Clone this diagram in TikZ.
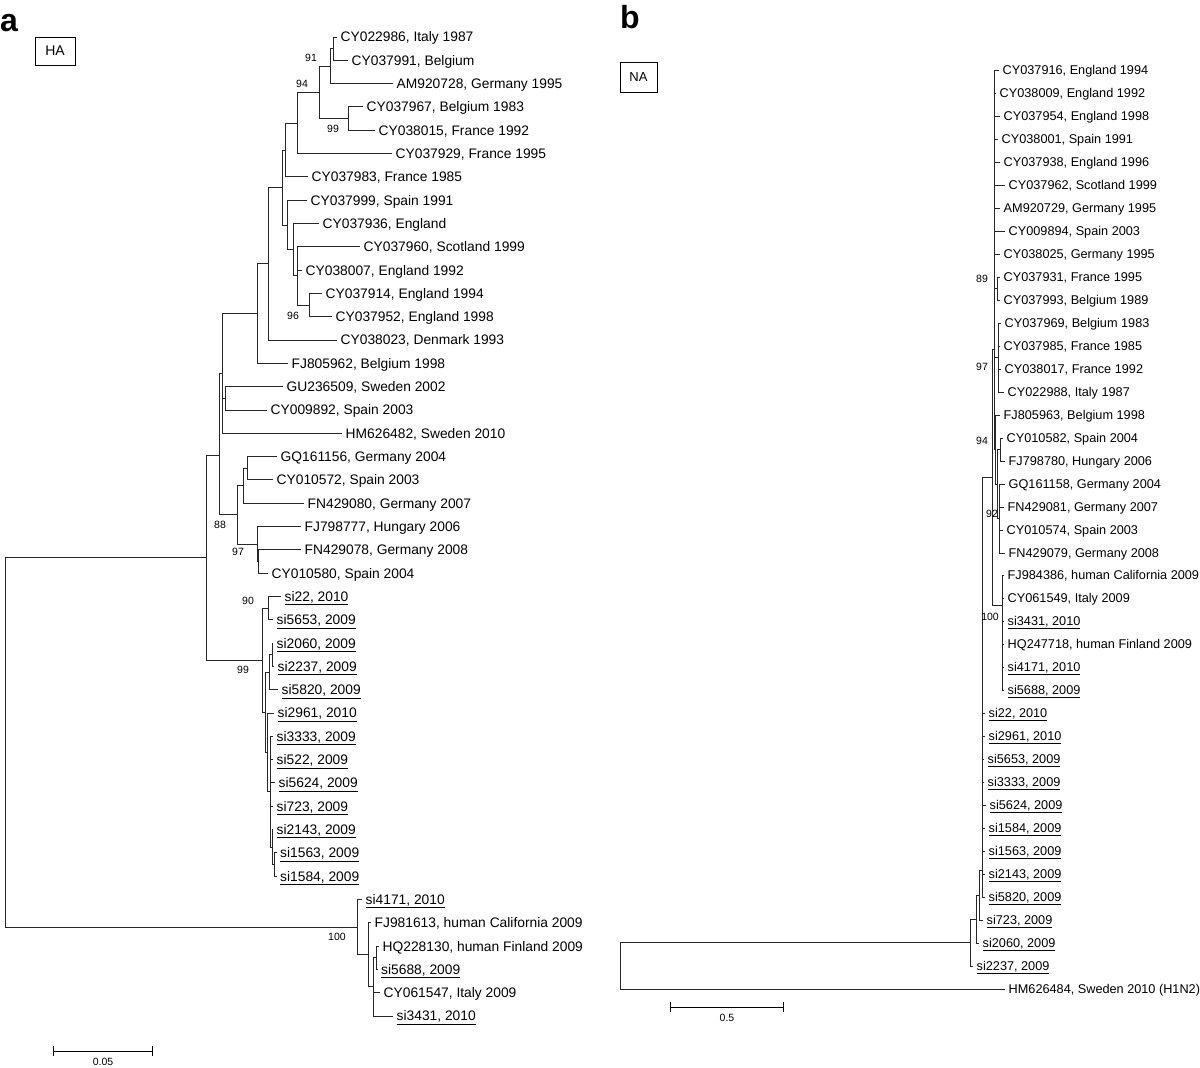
\documentclass[tikz,border=0pt]{standalone}
\usepackage{fontspec}
\setmainfont{Liberation Sans}
\usetikzlibrary{arrows.meta}
\newcommand\leaffont{\fontsize{13.8}{15}\selectfont}
\newcommand\leaffontb{\fontsize{12.7}{14}\selectfont}
\newcommand\bsfont{\fontsize{10.5}{12}\selectfont}
\newcommand\siu[1]{\underline{#1}}
\begin{document}
\begin{tikzpicture}[x=1pt,y=-1pt,
  br/.style={line width=0.9pt, draw=black!85},
  leaf/.style={anchor=west, inner xsep=3.5pt, inner ysep=0pt, text height=9.9pt, text depth=0pt, font=\leaffont},
  leafb/.style={leaf, text height=9.1pt, font=\leaffontb},
  boot/.style={font=\bsfont, inner sep=0pt},
  panel/.style={anchor=base west, inner sep=0pt, font=\fontsize{32}{34}\selectfont\bfseries},
  genebox/.style={draw, line width=0.8pt, inner sep=0pt},
  scalebar/.style={line width=0.9pt, {Bar[width=10pt]}-{Bar[width=10pt]}}
]
\useasboundingbox (0,0) rectangle (1200,1068);

% ---------------- panel a ----------------
\node[panel] (pa) at (0,31) {a};
\node[genebox, minimum width=40pt, minimum height=28pt, font=\fontsize{14}{16}\selectfont] (ha) at (55,51) {HA};

\node[leaf] (la1) at (337,37) {CY022986, Italy 1987};
\node[leaf] (la2) at (348,60.3) {CY037991, Belgium};
\node[leaf] (la3) at (393,83.6) {AM920728, Germany 1995};
\node[leaf] (la4) at (363,106.9) {CY037967, Belgium 1983};
\node[leaf] (la5) at (375,130.2) {CY038015, France 1992};
\node[leaf] (la6) at (392,153.6) {CY037929, France 1995};
\node[leaf] (la7) at (308,176.9) {CY037983, France 1985};
\node[leaf] (la8) at (307,200.2) {CY037999, Spain 1991};
\node[leaf] (la9) at (319,223.5) {CY037936, England};
\node[leaf] (la10) at (360,246.8) {CY037960, Scotland 1999};
\node[leaf] (la11) at (302,270.1) {CY038007, England 1992};
\node[leaf] (la12) at (322,293.4) {CY037914, England 1994};
\node[leaf] (la13) at (332,316.7) {CY037952, England 1998};
\node[leaf] (la14) at (337,340) {CY038023, Denmark 1993};
\node[leaf] (la15) at (288,363.3) {FJ805962, Belgium 1998};
\node[leaf] (la16) at (283,386.7) {GU236509, Sweden 2002};
\node[leaf] (la17) at (267,410) {CY009892, Spain 2003};
\node[leaf] (la18) at (342,433.3) {HM626482, Sweden 2010};
\node[leaf] (la19) at (277,456.6) {GQ161156, Germany 2004};
\node[leaf] (la20) at (273,479.9) {CY010572, Spain 2003};
\node[leaf] (la21) at (304,503.2) {FN429080, Germany 2007};
\node[leaf] (la22) at (301,526.5) {FJ798777, Hungary 2006};
\node[leaf] (la23) at (301,549.8) {FN429078, Germany 2008};
\node[leaf] (la24) at (268,573.1) {CY010580, Spain 2004};
\node[leaf] (la25) at (281,596.4) {\siu{si22, 2010}};
\node[leaf] (la26) at (273,619.8) {\siu{si5653, 2009}};
\node[leaf] (la27) at (273,643.1) {\siu{si2060, 2009}};
\node[leaf] (la28) at (274,666.4) {\siu{si2237, 2009}};
\node[leaf] (la29) at (278,689.7) {\siu{si5820, 2009}};
\node[leaf] (la30) at (274,713) {\siu{si2961, 2010}};
\node[leaf] (la31) at (273,736.3) {\siu{si3333, 2009}};
\node[leaf] (la32) at (273,759.6) {\siu{si522, 2009}};
\node[leaf] (la33) at (275,782.9) {\siu{si5624, 2009}};
\node[leaf] (la34) at (273,806.2) {\siu{si723, 2009}};
\node[leaf] (la35) at (273,829.5) {\siu{si2143, 2009}};
\node[leaf] (la36) at (276.5,852.8) {\siu{si1563, 2009}};
\node[leaf] (la37) at (276.5,876.2) {\siu{si1584, 2009}};
\node[leaf] (la38) at (362,899.5) {\siu{si4171, 2010}};
\node[leaf] (la39) at (371,922.8) {FJ981613, human California 2009};
\node[leaf] (la40) at (379,946.1) {HQ228130, human Finland 2009};
\node[leaf] (la41) at (377.5,969.4) {\siu{si5688, 2009}};
\node[leaf] (la42) at (380,992.7) {CY061547, Italy 2009};
\node[leaf] (la43) at (393,1016) {\siu{si3431, 2010}};

\coordinate (a12) at (333,48.7);
\coordinate (a123) at (330,66.1);
\coordinate (a45) at (348,118.6);
\coordinate (a1to5) at (319,92.3);
\coordinate (a1to6) at (297,123);
\coordinate (a1to7) at (285,150);
\coordinate (a1213) at (309,305);
\coordinate (aA) at (297,275.9);
\coordinate (aB) at (293,249.7);
\coordinate (aX) at (287,225);
\coordinate (aM) at (282,187.5);
\coordinate (aY) at (268,263.7);
\coordinate (aZ) at (257,313.5);
\coordinate (aP) at (225,398.3);
\coordinate (aU) at (222,373.4);
\coordinate (aGC) at (247,468.3);
\coordinate (aG) at (243,485.7);
\coordinate (aFC) at (258,561.4);
\coordinate (a97) at (257,544);
\coordinate (a88) at (237,514.8);
\coordinate (aS) at (219,455);
\coordinate (a90) at (268,608.1);
\coordinate (aK3) at (272,654.7);
\coordinate (aK2) at (269,672.2);
\coordinate (aK7) at (274.5,864.5);
\coordinate (aK6) at (272,847);
\coordinate (aK5) at (270,791.6);
\coordinate (aK4) at (267,752.3);
\coordinate (aK1) at (265,712.2);
\coordinate (a99) at (262,660.2);
\coordinate (aT) at (206,557.6);
\coordinate (aQ3) at (376,957.7);
\coordinate (aQ2) at (373,986.9);
\coordinate (aQ1) at (368,954.9);
\coordinate (a100) at (357,927.2);
\coordinate (aR) at (5,742.4);

\foreach \p/\c in {a12/la1, a12/la2, a123/a12, a123/la3, a45/la4, a45/la5,
  a1to5/a123, a1to5/a45, a1to6/a1to5, a1to6/la6, a1to7/a1to6, a1to7/la7,
  a1213/la12, a1213/la13, aA/la10, aA/la11, aA/a1213, aB/la9, aB/aA,
  aX/la8, aX/aB, aM/a1to7, aM/aX, aY/aM, aY/la14, aZ/aY, aZ/la15,
  aP/la16, aP/la17, aU/aZ, aU/aP, aU/la18, aGC/la19, aGC/la20, aG/aGC, aG/la21,
  aFC/la23, aFC/la24, a97/la22, a97/aFC, a88/aG, a88/a97, aS/aU, aS/a88,
  a90/la25, a90/la26, aK3/la27, aK3/la28, aK2/aK3, aK2/la29,
  aK7/la36, aK7/la37, aK6/la35, aK6/aK7, aK5/la31, aK5/la32, aK5/la33, aK5/la34, aK5/aK6,
  aK4/la30, aK4/aK5, aK1/aK2, aK1/aK4, a99/a90, a99/aK1, aT/aS, aT/a99,
  aQ3/la40, aQ3/la41, aQ2/aQ3, aQ2/la42, aQ2/la43, aQ1/la39, aQ1/aQ2,
  a100/la38, a100/aQ1, aR/aT, aR/a100}
  \draw[br] (\p) |- (\c);

\node[boot] (ba91) at (311,58) {91};
\node[boot] (ba94) at (302,84) {94};
\node[boot] (ba99a) at (333,129) {99};
\node[boot] (ba96) at (293,316) {96};
\node[boot] (ba88) at (220,525) {88};
\node[boot] (ba97) at (238,552) {97};
\node[boot] (ba90) at (248,601) {90};
\node[boot] (ba99b) at (243,670) {99};
\node[boot] (ba100) at (337,937) {100};

\coordinate (sa1) at (53,1051);
\coordinate (sa2) at (153,1051);
\draw[scalebar] (sa1) -- (sa2);
\node[boot] (sa) at (103,1062) {0.05};

% ---------------- panel b ----------------
\node[panel] (pb) at (620,28) {b};
\node[genebox, minimum width=37pt, minimum height=30pt, font=\fontsize{13}{15}\selectfont] (na) at (638.5,77) {NA};

\node[leafb] (lb1) at (999,70) {CY037916, England 1994};
\node[leafb] (lb2) at (996,93) {CY038009, England 1992};
\node[leafb] (lb3) at (1000,116) {CY037954, England 1998};
\node[leafb] (lb4) at (998,139) {CY038001, Spain 1991};
\node[leafb] (lb5) at (1000,162) {CY037938, England 1996};
\node[leafb] (lb6) at (1005,185) {CY037962, Scotland 1999};
\node[leafb] (lb7) at (1000,208) {AM920729, Germany 1995};
\node[leafb] (lb8) at (1005,231) {CY009894, Spain 2003};
\node[leafb] (lb9) at (1000,254) {CY038025, Germany 1995};
\node[leafb] (lb10) at (1000,277) {CY037931, France 1995};
\node[leafb] (lb11) at (1000,300) {CY037993, Belgium 1989};
\node[leafb] (lb12) at (1001,323) {CY037969, Belgium 1983};
\node[leafb] (lb13) at (1000,346) {CY037985, France 1985};
\node[leafb] (lb14) at (1001,369) {CY038017, France 1992};
\node[leafb] (lb15) at (1004,392) {CY022988, Italy 1987};
\node[leafb] (lb16) at (1000,415) {FJ805963, Belgium 1998};
\node[leafb] (lb17) at (1003,438) {CY010582, Spain 2004};
\node[leafb] (lb18) at (1005,461) {FJ798780, Hungary 2006};
\node[leafb] (lb19) at (1005,484) {GQ161158, Germany 2004};
\node[leafb] (lb20) at (1004,507) {FN429081, Germany 2007};
\node[leafb] (lb21) at (1003,530) {CY010574, Spain 2003};
\node[leafb] (lb22) at (1005,553) {FN429079, Germany 2008};
\node[leafb] (lb23) at (1004,575) {FJ984386, human California 2009};
\node[leafb] (lb24) at (1004,598) {CY061549, Italy 2009};
\node[leafb] (lb25) at (1004,621) {\siu{si3431, 2010}};
\node[leafb] (lb26) at (1004,644) {HQ247718, human Finland 2009};
\node[leafb] (lb27) at (1004,667) {\siu{si4171, 2010}};
\node[leafb] (lb28) at (1004,690) {\siu{si5688, 2009}};
\node[leafb] (lb29) at (985,713) {\siu{si22, 2010}};
\node[leafb] (lb30) at (985,736) {\siu{si2961, 2010}};
\node[leafb] (lb31) at (984,759) {\siu{si5653, 2009}};
\node[leafb] (lb32) at (984,782) {\siu{si3333, 2009}};
\node[leafb] (lb33) at (986,805) {\siu{si5624, 2009}};
\node[leafb] (lb34) at (985,828) {\siu{si1584, 2009}};
\node[leafb] (lb35) at (985,851) {\siu{si1563, 2009}};
\node[leafb] (lb36) at (985,874) {\siu{si2143, 2009}};
\node[leafb] (lb37) at (985,897) {\siu{si5820, 2009}};
\node[leafb] (lb38) at (983,920) {\siu{si723, 2009}};
\node[leafb] (lb39) at (979,943) {\siu{si2060, 2009}};
\node[leafb] (lb40) at (973,966) {\siu{si2237, 2009}};
\node[leafb] (lb41) at (1005,989) {HM626484, Sweden 2010 (H1N2)};

\coordinate (bBIG) at (994,349);
\coordinate (b89) at (997,288.5);
\coordinate (b97) at (998,357.5);
\coordinate (b94) at (995.5,449.5);
\coordinate (bW1) at (997,484);
\coordinate (b1718) at (1000,449.5);
\coordinate (b92) at (999.5,518.5);
\coordinate (bU) at (992,477);
\coordinate (bP) at (1002,605);
\coordinate (bN4) at (982,870);
\coordinate (bN3) at (979,895);
\coordinate (bN2) at (976,919);
\coordinate (bNm) at (970.5,942);
\coordinate (bR) at (620,965.5);

\foreach \p/\c in {bBIG/lb1, bBIG/lb2, bBIG/lb3, bBIG/lb4, bBIG/lb5, bBIG/lb6, bBIG/lb7, bBIG/lb8, bBIG/lb9,
  bBIG/b89, bBIG/b97, bBIG/b94, b89/lb10, b89/lb11,
  b97/lb12, b97/lb13, b97/lb14, b97/lb15, b94/lb16, b94/bW1, bW1/b1718, bW1/b92,
  b1718/lb17, b1718/lb18, b92/lb19, b92/lb20, b92/lb21, b92/lb22,
  bU/bBIG, bU/bP, bP/lb23, bP/lb24, bP/lb25, bP/lb26, bP/lb27, bP/lb28,
  bN4/bU, bN4/lb29, bN4/lb30, bN4/lb31, bN4/lb32, bN4/lb33, bN4/lb34, bN4/lb35, bN4/lb36, bN4/lb37,
  bN3/bN4, bN3/lb38, bN2/bN3, bN2/lb39, bNm/bN2, bNm/lb40, bR/bNm, bR/lb41}
  \draw[br] (\p) |- (\c);

\node[boot] (bb89) at (982,279) {89};
\node[boot] (bb97) at (982,367) {97};
\node[boot] (bb94) at (982,441) {94};
\node[boot] (bb92) at (992,514) {92};
\node[boot] (bb100) at (990,617) {100};

\coordinate (sb1) at (670,1007);
\coordinate (sb2) at (784,1007);
\draw[scalebar] (sb1) -- (sb2);
\node[boot] (sb) at (727,1018) {0.5};
\end{tikzpicture}
\end{document}
